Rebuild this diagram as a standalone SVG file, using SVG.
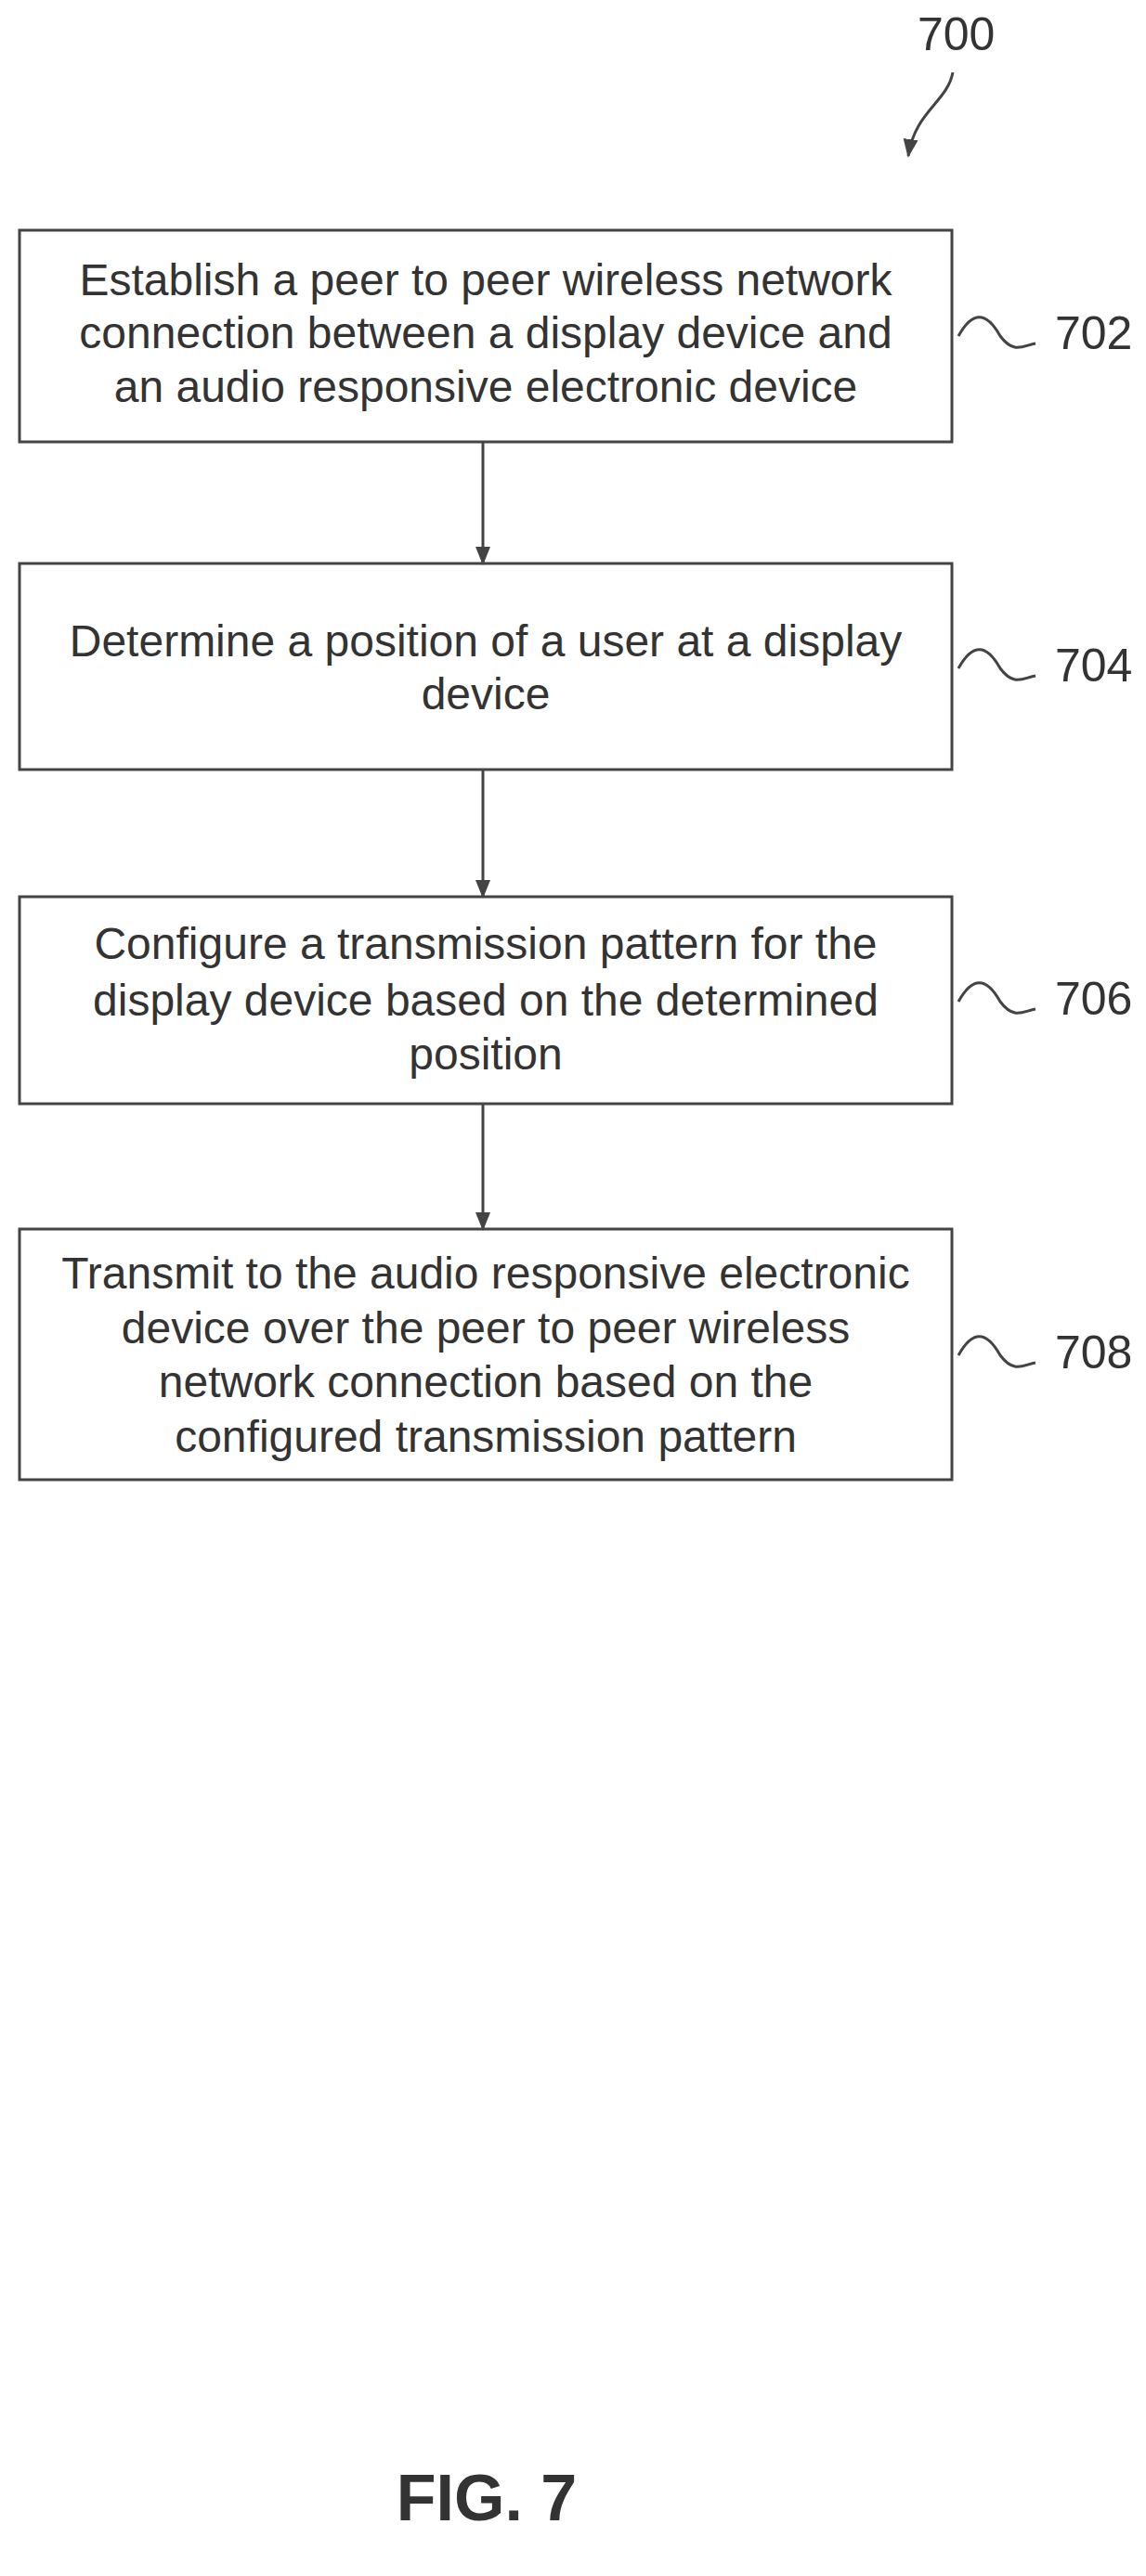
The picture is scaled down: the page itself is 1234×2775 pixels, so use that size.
<svg xmlns="http://www.w3.org/2000/svg" width="1234" height="2775" viewBox="0 0 1234 2775">
<style>
.box{fill:#fff;stroke:#444;stroke-width:3}
.t{font-family:"Liberation Sans",Arial,sans-serif;font-size:48px;fill:#333;text-anchor:middle}
.lbl{font-family:"Liberation Sans",Arial,sans-serif;font-size:50px;fill:#333}
.ln{fill:none;stroke:#444;stroke-width:3}
</style>
<defs>
<marker id="ah2" markerWidth="20" markerHeight="20" refX="18" refY="10" orient="auto" markerUnits="userSpaceOnUse" viewBox="0 0 20 20"><path d="M0,2 L20,10 L0,18 z" fill="#444"/></marker></defs>
<rect width="1234" height="2775" fill="#fff"/>
<g id="ref700">
<text class="lbl" x="988" y="54">700</text>
<path class="ln" d="M1026,78 C1020,110 985,120 978,168" marker-end="url(#ah2)"/>
</g>
<g id="n702">
<rect class="box" x="21" y="248" width="1004" height="228"/>
<text class="t" x="523" y="318">Establish a peer to peer wireless network</text>
<text class="t" x="523" y="375">connection between a display device and</text>
<text class="t" x="523" y="433">an audio responsive electronic device</text>
<path class="ln" d="M1032,362 C1047,335 1062,335 1077,362 C1092,382 1102,372 1115,370"/>
<text class="lbl" x="1136" y="376">702</text>
</g>
<g id="n704">
<rect class="box" x="21" y="607" width="1004" height="222"/>
<text class="t" x="523" y="707">Determine a position of a user at a display</text>
<text class="t" x="523" y="764">device</text>
<path class="ln" d="M1032,720 C1047,693 1062,693 1077,720 C1092,740 1102,730 1115,728"/>
<text class="lbl" x="1136" y="734">704</text>
</g>
<g id="n706">
<rect class="box" x="21" y="966" width="1004" height="223"/>
<text class="t" x="523" y="1033">Configure a transmission pattern for the</text>
<text class="t" x="523" y="1094">display device based on the determined</text>
<text class="t" x="523" y="1152">position</text>
<path class="ln" d="M1032,1079 C1047,1052 1062,1052 1077,1079 C1092,1099 1102,1089 1115,1087"/>
<text class="lbl" x="1136" y="1093">706</text>
</g>
<g id="n708">
<rect class="box" x="21" y="1324" width="1004" height="270"/>
<text class="t" x="523" y="1388">Transmit to the audio responsive electronic</text>
<text class="t" x="523" y="1447">device over the peer to peer wireless</text>
<text class="t" x="523" y="1505">network connection based on the</text>
<text class="t" x="523" y="1564">configured transmission pattern</text>
<path class="ln" d="M1032,1460 C1047,1433 1062,1433 1077,1460 C1092,1480 1102,1470 1115,1468"/>
<text class="lbl" x="1136" y="1474">708</text>
</g>
<g id="connectors">
<line class="ln" x1="520" y1="476" x2="520" y2="607" marker-end="url(#ah2)"/>
<line class="ln" x1="520" y1="829" x2="520" y2="966" marker-end="url(#ah2)"/>
<line class="ln" x1="520" y1="1189" x2="520" y2="1324" marker-end="url(#ah2)"/>
</g>
<text x="524" y="2715" style="font-family:'Liberation Sans',Arial,sans-serif;font-size:70px;font-weight:bold;fill:#333;text-anchor:middle">FIG. 7</text>
</svg>
